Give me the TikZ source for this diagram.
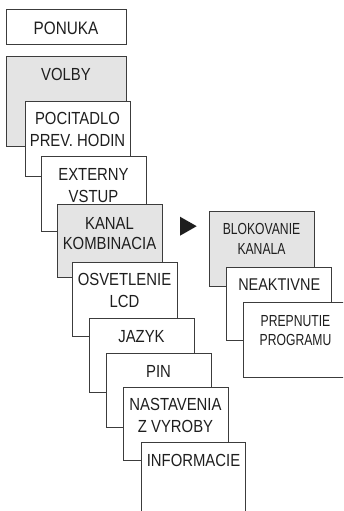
\documentclass[tikz,border=0pt]{standalone}
\usepackage{fontspec}
\setmainfont{Liberation Sans}[FakeStretch=0.85]
\newfontfamily\narrowfont{Liberation Sans}[FakeStretch=0.76]
\definecolor{boxline}{HTML}{3C3C3C}
\definecolor{boxgray}{HTML}{E4E4E4}
\definecolor{txtcol}{HTML}{1E1E1E}
\begin{document}
\begin{tikzpicture}[x=1pt,y=-1pt,
  box/.style={draw=boxline, line width=1pt, fill=white, anchor=north west,
    inner sep=0pt, outer sep=0pt, minimum width=105pt, minimum height=74pt},
  graybox/.style={box, fill=boxgray},
  lbl/.style={anchor=base, inner sep=0pt, text=txtcol, font=\fontsize{17.5}{20}\selectfont},
  nlbl/.style={lbl, font=\fontsize{16}{19}\narrowfont}]
\useasboundingbox (0,0) rectangle (343,511);
\clip (0,0) rectangle (343,511);

% PONUKA
\node[box, minimum width=120pt, minimum height=35.5pt] (ponuka) at (6,9.5) {};
\node[lbl, font=\fontsize{18}{20}\selectfont] (ponukaT) at ([yshift=-25.5pt]ponuka.north) {PONUKA};

% VOLBY
\node[graybox, minimum width=120pt, minimum height=89pt] (volby) at (6,57) {};
\node[lbl] (volbyT) at ([yshift=-24pt]volby.north) {VOLBY};

% POCITADLO
\node[box, minimum height=75pt] (pocit) at (25,101) {};
\node[lbl] (pocitT1) at ([yshift=-23.5pt]pocit.north) {POCITADLO};
\node[lbl] (pocitT2) at ([yshift=-45.5pt]pocit.north) {PREV. HODIN};

% EXTERNY
\node[box, minimum height=75pt] (ext) at (41,156) {};
\node[lbl] (extT1) at ([yshift=-24.5pt]ext.north) {EXTERNY};
\node[lbl] (extT2) at ([yshift=-46.5pt]ext.north) {VSTUP};

% KANAL
\node[graybox, minimum height=73pt] (kanal) at (57,204) {};
\node[lbl] (kanalT1) at ([yshift=-25pt]kanal.north) {KANAL};
\node[lbl] (kanalT2) at ([yshift=-45.5pt]kanal.north) {KOMBINACIA};

% OSVETLENIE
\node[box, minimum height=74pt] (osv) at (72,262) {};
\node[lbl] (osvT1) at ([yshift=-23.5pt]osv.north) {OSVETLENIE};
\node[lbl] (osvT2) at ([yshift=-45.5pt]osv.north) {LCD};

% JAZYK
\node[box, minimum height=74pt] (jazyk) at (89,318) {};
\node[lbl] (jazykT) at ([yshift=-24.5pt]jazyk.north) {JAZYK};

% PIN
\node[box, minimum height=74pt] (pin) at (106,353) {};
\node[lbl] (pinT) at ([yshift=-24.5pt]pin.north) {PIN};

% NASTAVENIA
\node[box, minimum height=73pt] (nast) at (123,387) {};
\node[lbl] (nastT1) at ([yshift=-23.5pt]nast.north) {NASTAVENIA};
\node[lbl] (nastT2) at ([yshift=-45.5pt]nast.north) {Z VYROBY};

% INFORMACIE
\node[box, minimum width=104pt, minimum height=100pt] (info) at (141.5,442) {};
\node[lbl] (infoT) at ([yshift=-24pt]info.north) {INFORMACIE};

% arrow triangle
\fill[txtcol] (180,216.7) -- (196.7,226.2) -- (180,235.7) -- cycle;

% BLOKOVANIE
\node[graybox, minimum height=74.3pt] (blok) at (209,211.7) {};
\node[nlbl] (blokT1) at ([yshift=-22.6pt]blok.north) {BLOKOVANIE};
\node[nlbl] (blokT2) at ([yshift=-42.6pt]blok.north) {KANALA};

% NEAKTIVNE
\node[box, minimum height=72.3pt] (neakt) at (226.7,267.7) {};
\node[lbl, font=\fontsize{17}{20}\selectfont] (neaktT) at ([yshift=-23pt]neakt.north) {NEAKTIVNE};

% PREPNUTIE
\node[box, minimum height=74.6pt] (prep) at (243,302.7) {};
\node[nlbl] (prepT1) at ([yshift=-23.3pt]prep.north) {PREPNUTIE};
\node[nlbl] (prepT2) at ([yshift=-43pt]prep.north) {PROGRAMU};
\end{tikzpicture}
\end{document}
